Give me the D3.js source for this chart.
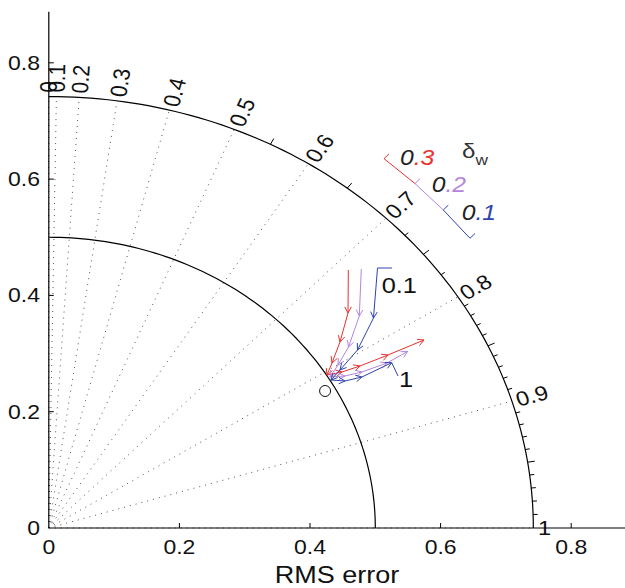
<!DOCTYPE html>
<html>
<head>
<meta charset="utf-8">
<script src="https://cdnjs.cloudflare.com/ajax/libs/d3/7.8.5/d3.min.js"></script>
<style>
  body { margin: 0; background: #fff; }
  text { font-family: "Liberation Sans", Arial, Helvetica, sans-serif; fill: #111; }
</style>
</head>
<body>
<div id="chart"></div>
<script>
(function () {

  var w = 625;
  var h = 588;
  var sx = 1.15;   // the original picture is stretched sideways

  // axis ticks
  var xTicks = [0, 0.2, 0.4, 0.6, 0.8];
  var yTicks = [0, 0.2, 0.4, 0.6, 0.8];

  // correlation labels on the outer arc
  var corrLabels = [0, 0.1, 0.2, 0.3, 0.4, 0.5, 0.6, 0.7, 0.8, 0.9, 1];
  var corrLong = [0.55, 0.65, 0.75, 0.85, 0.95];
  var corrShort = [0.725, 0.775, 0.81, 0.82, 0.83, 0.84, 0.86, 0.87, 0.88, 0.89,
                   0.91, 0.92, 0.93, 0.94, 0.96, 0.97, 0.98, 0.99];

  var innerRadius = 0.5;
  var outerRadius = 0.742;

  // trajectories (x, y in axis units)
  var seriesNames = ["0.3", "0.2", "0.1"];
  var seriesColors = ["#e8322f", "#b385dd", "#2e44ad"];

  var redX = [0.4587, 0.4582, 0.4459, 0.4337, 0.4260, 0.4490, 0.4766, 0.5194, 0.5746];
  var redY = [0.4437, 0.3697, 0.3199, 0.2837, 0.2631, 0.2683, 0.2786, 0.2975, 0.3233];
  var purpleX = [0.4786, 0.4755, 0.4590, 0.4429, 0.4306, 0.4536, 0.4796, 0.5179, 0.5493];
  var purpleY = [0.4454, 0.3646, 0.3113, 0.2803, 0.2597, 0.2614, 0.2683, 0.2837, 0.3035];
  var blueX = [0.5034, 0.4972, 0.4727, 0.4459, 0.4322, 0.4536, 0.4796, 0.5251];
  var blueY = [0.4471, 0.3611, 0.3061, 0.2717, 0.2545, 0.2528, 0.2597, 0.2843];

  // leader hooks to the "0.1" and "1" labels
  var hookStart = [0.5256, 0.4471];
  var hookEnd = [0.5348, 0.2614];

  // reference point
  var refX = 0.4231;
  var refY = 0.2356;

  // legend bar, break points
  var legendX = [0.5133, 0.5608, 0.6041, 0.6450];
  var legendY = [0.6352, 0.5923, 0.5469, 0.4982];
  var legendLabelX = [0.5378, 0.5864, 0.6323];
  var legendLabelY = [0.6242, 0.5778, 0.5297];

  var x = d3.scaleLinear().domain([0, 0.9]).range([48.8, 48.8 + 0.9 * 653]);
  var y = d3.scaleLinear().domain([0, 0.888]).range([528, 528 - 0.888 * 581.5]);

  var svg = d3.select("#chart")
    .append("svg")
    .attr("width", w)
    .attr("height", h);

  function theta(c) { return Math.PI / 2 * (1 - c * c); }

  function place(x0, y0, rot) {
    return "translate(" + x0 + "," + y0 + ") scale(" + sx + ",1) rotate(" + (-rot) + ")";
  }

  var line = d3.line()
    .x(function (d) { return x(d[0]); })
    .y(function (d) { return y(d[1]); });

  // dotted radial lines
  svg.selectAll(".radial")
    .data(corrLabels)
    .enter()
    .append("path")
    .attr("class", "radial")
    .attr("d", function (c) {
      var t = theta(c);
      return line([[0, 0], [outerRadius * Math.cos(t), outerRadius * Math.sin(t)]]);
    })
    .style("fill", "none")
    .style("stroke", "#555")
    .style("stroke-width", 1)
    .style("stroke-dasharray", "1,5");

  // arcs
  [innerRadius, outerRadius].forEach(function (r) {
    var pts = d3.range(0, 91).map(function (a) {
      var t = a * Math.PI / 180;
      return [r * Math.cos(t), r * Math.sin(t)];
    });
    svg.append("path")
      .attr("d", line(pts))
      .style("fill", "none")
      .style("stroke", "#000")
      .style("stroke-width", 1.2);
  });

  // ticks on outer arc
  function arcTicks(list, len) {
    svg.selectAll(null)
      .data(list)
      .enter()
      .append("path")
      .attr("d", function (c) {
        var t = theta(c);
        return line([[outerRadius * Math.cos(t), outerRadius * Math.sin(t)],
                     [(outerRadius + len) * Math.cos(t), (outerRadius + len) * Math.sin(t)]]);
      })
      .style("stroke", "#000")
      .style("stroke-width", 1);
  }
  arcTicks(corrLong, 0.011);
  arcTicks(corrShort, 0.007);

  // correlation labels
  svg.selectAll(".clabel")
    .data(corrLabels)
    .enter()
    .append("text")
    .attr("class", "clabel")
    .attr("transform", function (c) {
      var t = theta(c);
      var r = 0.749;
      return place(x(r * Math.cos(t)), y(r * Math.sin(t)), t * 180 / Math.PI);
    })
    .attr("dy", "0.35em")
    .style("font-size", "20.5px")
    .text(function (c) { return c === 0 || c === 1 ? String(c) : c.toFixed(1); });

  // axes
  svg.append("line")
    .attr("x1", x(0)).attr("x2", w)
    .attr("y1", y(0)).attr("y2", y(0))
    .style("stroke", "#000").style("stroke-width", 1.2);
  svg.append("line")
    .attr("x1", x(0)).attr("x2", x(0))
    .attr("y1", y(0)).attr("y2", y(0.888))
    .style("stroke", "#000").style("stroke-width", 1.2);

  svg.selectAll(".xtick")
    .data(xTicks.slice(1))
    .enter()
    .append("line")
    .attr("x1", function (d) { return x(d); })
    .attr("x2", function (d) { return x(d); })
    .attr("y1", y(0)).attr("y2", y(0) - 5)
    .style("stroke", "#000");
  svg.selectAll(".ytick")
    .data(yTicks.slice(1))
    .enter()
    .append("line")
    .attr("y1", function (d) { return y(d); })
    .attr("y2", function (d) { return y(d); })
    .attr("x1", x(0)).attr("x2", x(0) + 5)
    .style("stroke", "#000");

  svg.selectAll(".xlabel")
    .data(xTicks)
    .enter()
    .append("text")
    .attr("transform", function (d) { return place(x(d), 554, 0); })
    .attr("text-anchor", "middle")
    .style("font-size", "20px")
    .text(function (d) { return d === 0 ? "0" : d.toFixed(1); });

  svg.selectAll(".ylabel")
    .data(yTicks)
    .enter()
    .append("text")
    .attr("transform", function (d) { return place(40, y(d), 0); })
    .attr("text-anchor", "end")
    .attr("dy", "0.35em")
    .style("font-size", "20px")
    .text(function (d) { return d === 0 ? "0" : d.toFixed(1); });

  svg.append("text")
    .attr("transform", place(337, 583, 0))
    .attr("text-anchor", "middle")
    .style("font-size", "23.5px")
    .text("RMS error");

  // arrows
  function arrowHeads(pts, color) {
    for (var i = 1; i < pts.length; i++) {
      var x0 = x(pts[i - 1][0]), y0 = y(pts[i - 1][1]);
      var x1 = x(pts[i][0]), y1 = y(pts[i][1]);
      var a = Math.atan2(y1 - y0, x1 - x0);
      var L = 7, phi = 28 * Math.PI / 180;
      var p = "M" + (x1 - L * Math.cos(a - phi)) + "," + (y1 - L * Math.sin(a - phi)) +
              "L" + x1 + "," + y1 +
              "L" + (x1 - L * Math.cos(a + phi)) + "," + (y1 - L * Math.sin(a + phi));
      svg.append("path")
        .attr("d", p)
        .style("fill", "none")
        .style("stroke", color)
        .style("stroke-width", 1);
    }
  }

  var paths = [
    d3.zip(redX, redY),
    d3.zip(purpleX, purpleY),
    d3.zip(blueX, blueY)
  ];

  paths.forEach(function (pts, i) {
    svg.append("path")
      .attr("d", line(pts))
      .style("fill", "none")
      .style("stroke", seriesColors[i])
      .style("stroke-width", 1);
    arrowHeads(pts, seriesColors[i]);
  });

  var bluePts = paths[2];
  svg.append("path")
    .attr("d", line([hookStart, bluePts[0]]))
    .style("fill", "none").style("stroke", seriesColors[2]);
  svg.append("path")
    .attr("d", line([bluePts[bluePts.length - 1], hookEnd]))
    .style("fill", "none").style("stroke", seriesColors[2]);

  svg.append("circle")
    .attr("cx", x(refX))
    .attr("cy", y(refY))
    .attr("r", 5.5)
    .style("fill", "none")
    .style("stroke", "#111")
    .style("stroke-width", 1);

  svg.append("text")
    .attr("transform", place(x(0.5098), y(0.4041), 0))
    .style("font-size", "22px")
    .text("0.1");
  svg.append("text")
    .attr("transform", place(x(0.5363), y(0.2425), 0))
    .style("font-size", "22px")
    .text("1");

  // legend bar
  var legendColors = [seriesColors[0], seriesColors[1], seriesColors[2], seriesColors[2]];
  for (var i = 0; i < 3; i++) {
    svg.append("line")
      .attr("x1", x(legendX[i])).attr("y1", y(legendY[i]))
      .attr("x2", x(legendX[i + 1])).attr("y2", y(legendY[i + 1]))
      .style("stroke", seriesColors[i]);
  }
  legendX.forEach(function (lx, i) {
    svg.append("line")
      .attr("x1", x(lx)).attr("y1", y(legendY[i]))
      .attr("x2", x(lx) + 5).attr("y2", y(legendY[i]) - 4.8)
      .style("stroke", legendColors[i]);
  });

  seriesNames.forEach(function (name, i) {
    var t = svg.append("text")
      .attr("transform", place(x(legendLabelX[i]), y(legendLabelY[i]), 0))
      .style("font-size", "21.5px")
      .style("font-style", "italic");
    t.append("tspan").style("fill", "#222").text(name.slice(0, 1));
    t.append("tspan").style("fill", seriesColors[i]).text(name.slice(1));
  });

  var dl = svg.append("text")
    .attr("transform", place(x(0.6328), y(0.6363), 0))
    .style("font-size", "21px")
    .style("fill", "#333");
  dl.append("tspan").text("δ");
  dl.append("tspan").attr("dy", 7).style("font-size", "15px").text("w");

})();
</script>
</body>
</html>
